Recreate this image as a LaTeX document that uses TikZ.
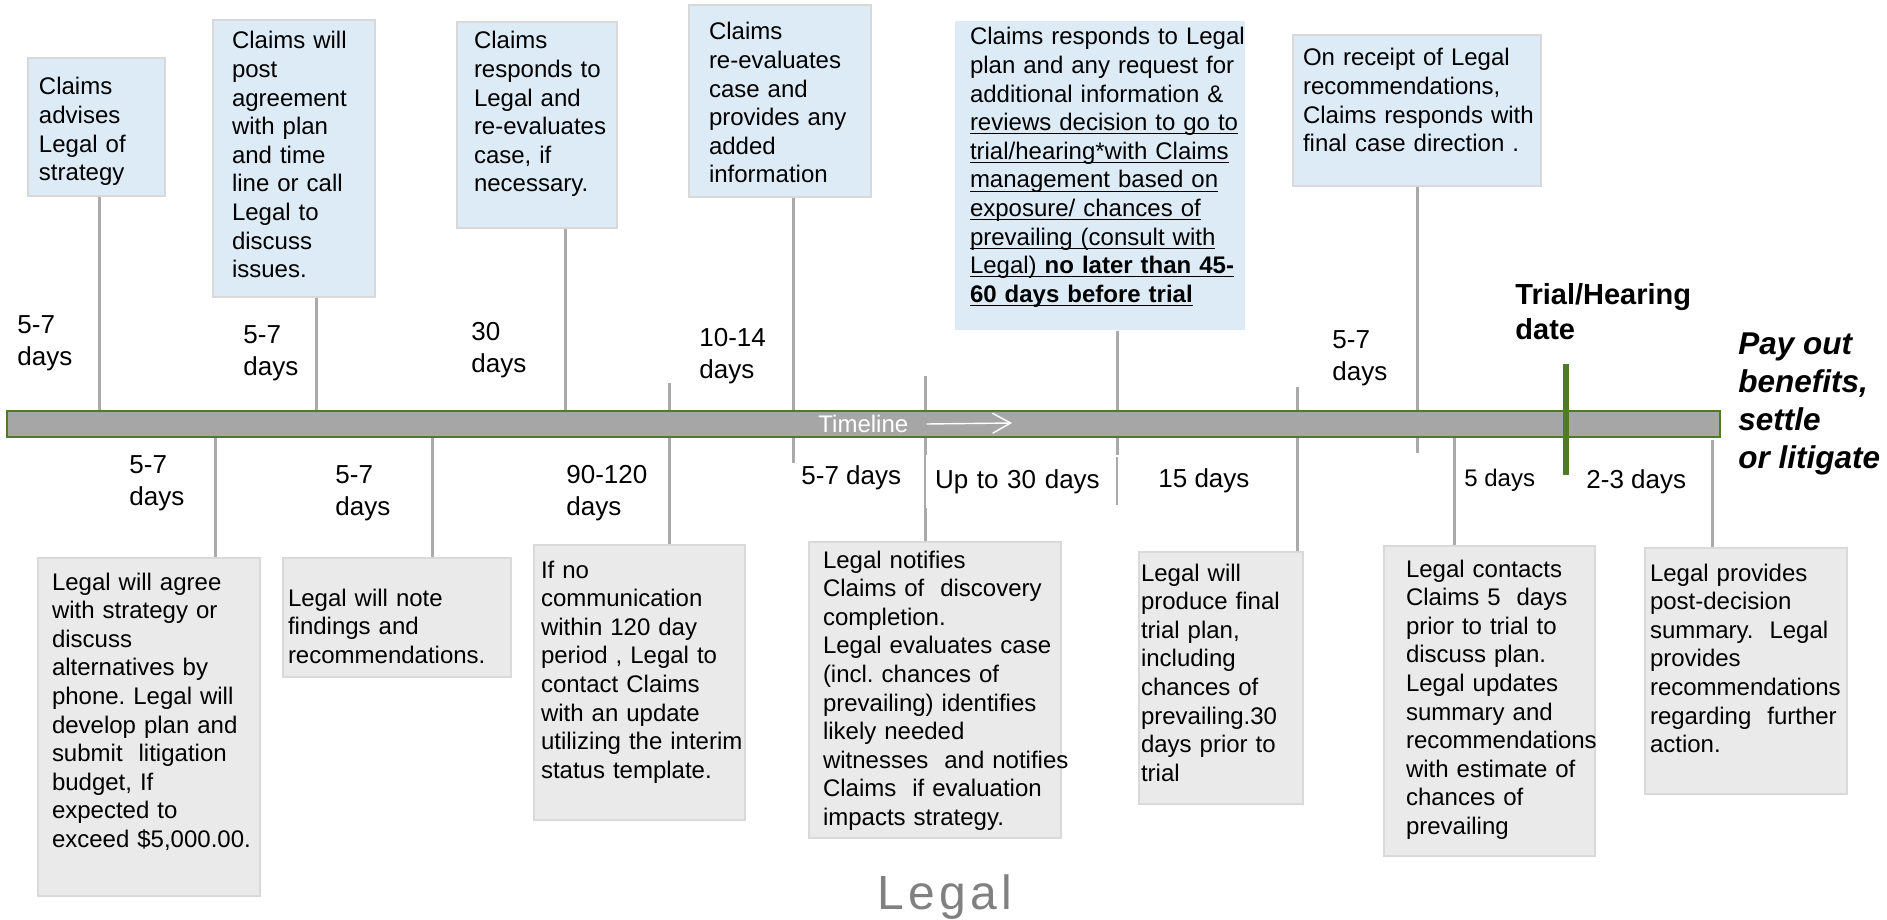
\documentclass[tikz,border=0pt]{standalone}
\usepackage{fontspec}
\setmainfont{Liberation Sans}
\frenchspacing
\newcommand{\undr}[1]{\mbox{\setbox0=\hbox{#1}\rlap{\rule[-1.8pt]{\wd0}{0.5pt}}\box0}}
\definecolor{ClaimsBlue}{RGB}{221, 235, 247}
\definecolor{LegalGray}{RGB}{234, 234, 234}
\definecolor{EdgeGray}{RGB}{217, 217, 217}
\definecolor{LinkGray}{RGB}{170, 170, 170}
\definecolor{BarGray}{RGB}{166, 166, 166}
\definecolor{BarGreen}{RGB}{79, 122, 40}
\definecolor{TitleGray}{RGB}{128, 128, 128}
\usetikzlibrary{arrows.meta}

\begin{document}
\begin{tikzpicture}[
        x=0.5pt, y=-0.5pt,
        box/.style={rectangle, draw=EdgeGray, line width=1pt, anchor=north west,
                    align=left, inner ysep=0pt, font=\fontsize{12pt}{14.3pt}\selectfont},
        boxsize/.style n args={4}{text width=#1, inner xsep=#2, text height=#3, text depth=#4},
        claims/.style={box, fill=ClaimsBlue},
        legal/.style={box, fill=LegalGray},
        gap/.style={anchor=north west, inner sep=0pt, align=left,
                    font=\fontsize{13pt}{16pt}\selectfont},
        link/.style={draw=LinkGray, line width=1.5pt},
        bar/.style={rectangle, draw=BarGreen, fill=BarGray, line width=1pt, inner sep=0pt,
                    minimum width=856.5pt, minimum height=13pt},
        arrow/.style={-{Straight Barb[length=9pt, width=10pt]}, white, line width=0.7pt},
        trialmark/.style={draw=BarGreen, line width=3pt}
    ]
    \useasboundingbox (0,0) rectangle (1887,920);

    % Claims boxes
    \node[claims, boxsize={57.5pt}{5.5pt}{18.5pt}{50.5pt}] (adv) at (27,57)
        {Claims\\advises\\Legal of\\strategy};
    \node[claims, boxsize={62pt}{9.5pt}{14.5pt}{124pt}] (post) at (212,19)
        {Claims will\\post\\agreement\\with plan\\and time\\line or call\\Legal to\\discuss\\issues.};
    \node[claims, boxsize={63pt}{8.5pt}{13.5pt}{89.5pt}] (resp) at (456,21)
        {Claims\\\mbox{responds to}\\Legal and\\\mbox{re-evaluates}\\case, if\\necessary.};
    \node[claims, boxsize={71pt}{10pt}{17.5pt}{78.5pt}] (reeval) at (688,4)
        {Claims\\re-evaluates\\case and\\provides any\\added\\information};
    \node[claims, draw=none, boxsize={130pt}{7.5pt}{12pt}{142.5pt}] (review) at (954,20)
        {\mbox{Claims responds to Legal}\\
         \mbox{plan and any request for}\\
         additional information \&\\
         \undr{reviews decision to go to}\\
         \undr{trial/hearing*with Claims}\\
         \undr{management based on}\\
         \undr{exposure/ chances of}\\
         \undr{prevailing (consult with}\\
         \undr{Legal) \textbf{no later than 45-}}\\
         \undr{\textbf{60 days before trial}}};
    \node[claims, boxsize={114pt}{5pt}{15.5pt}{60pt}] (direct) at (1292,34)
        {On receipt of Legal\\recommendations,\\\mbox{Claims responds with}\\final case direction .};

    % Legal boxes
    \node[legal, boxsize={97pt}{7pt}{16pt}{153pt}] (agree) at (37,557)
        {Legal will agree\\with strategy or\\discuss\\alternatives by\\phone. Legal will\\develop plan and\\submit~ litigation\\budget, If\\expected to\\\mbox{exceed \$5,000.00.}};
    \node[legal, boxsize={109pt}{2.5pt}{24pt}{35.5pt}] (note) at (282,557)
        {Legal will note\\findings and\\recommendations.};
    \node[legal, boxsize={98.5pt}{3.5pt}{16.5pt}{121pt}] (nocomm) at (533,544)
        {If no\\communication\\within 120 day\\period , Legal to\\contact Claims\\with an update\\\mbox{utilizing the interim}\\status template.};
    \node[legal, boxsize={112pt}{7pt}{13pt}{135pt}] (notify) at (808,541)
        {Legal notifies\\Claims of~ discovery\\completion.\\\mbox{Legal evaluates case}\\(incl. chances of\\prevailing) identifies\\likely needed\\\mbox{witnesses~ and notifies}\\Claims~ if evaluation\\impacts strategy.};
    \node[legal, boxsize={80pt}{1pt}{14.5pt}{111.5pt}] (final) at (1138,551)
        {Legal will\\produce final\\trial plan,\\including\\chances of\\prevailing.30\\days prior to\\trial};
    \node[legal, boxsize={83.5pt}{11pt}{15.5pt}{139.5pt}] (contact) at (1383,545)
        {Legal contacts\\Claims 5~ days\\prior to trial to\\discuss plan.\\Legal updates\\summary and\\\mbox{recommendations}\\\mbox{with estimate of}\\chances of\\prevailing};
    \node[legal, boxsize={96pt}{2.5pt}{16.5pt}{106.5pt}] (summary) at (1644,547)
        {Legal provides\\post-decision\\summary.~ Legal\\provides\\\mbox{recommendations}\\regarding~ further\\action.};

    % Link ends
    \coordinate (e1) at (99,411);
    \coordinate (e2) at (316,411);
    \coordinate (e3) at (565,411);
    \coordinate (e4) at (793,463);
    \coordinate (e5) at (1117,505);
    \coordinate (e6) at (1417,453);
    \coordinate (s1) at (215,437);
    \coordinate (s2) at (432,437);
    \coordinate (s3) at (669,383);
    \coordinate (s4) at (925,376);
    \coordinate (s5) at (1297,387);
    \coordinate (s6) at (1454,437);
    \coordinate (s7) at (1712,440);

    % Links
    \draw[link] (adv.south -| e1) -- (e1);
    \draw[link] (post.south -| e2) -- (e2);
    \draw[link] (resp.south -| e3) -- (e3);
    \draw[link] (reeval.south -| e4) -- (e4);
    \draw[link] (review.south -| e5) -- (e5);
    \draw[link] (direct.south -| e6) -- (e6);
    \draw[link] (s1) -- (agree.north -| s1);
    \draw[link] (s2) -- (note.north -| s2);
    \draw[link] (s3) -- (nocomm.north -| s3);
    \draw[link] (s4) -- (notify.north -| s4);
    \draw[link] (s5) -- (final.north -| s5);
    \draw[link] (s6) -- (contact.north -| s6);
    \draw[link] (s7) -- (summary.north -| s7);

    % Durations
    \node[gap] (dur1) at (17,315) {5-7\\days};
    \node[gap] (dur2) at (243,325) {5-7\\days};
    \node[gap] (dur3) at (471,322) {30\\days};
    \node[gap] (dur4) at (699,328) {10-14\\days};
    \node[gap] (dur5) at (1332,330) {5-7\\days};
    \node[gap] (dur6) at (129,455) {5-7\\days};
    \node[gap] (dur7) at (335,465) {5-7\\days};
    \node[gap] (dur8) at (566,465) {90-120\\days};
    \node[gap] (dur9) at (801,465) {5-7 days};
    \node[gap, draw=white, line width=1pt, inner xsep=4pt, text width=88pt, minimum height=25.5pt] (dur10) at (926,455) {Up to 30 days};
    \node[gap] (dur11) at (1158,468) {15 days};
    \node[gap, font=\fontsize{12pt}{14pt}\selectfont] (dur12) at (1464,469) {5 days};
    \node[gap] (dur13) at (1586,469) {2-3 days};

    % Timeline bar
    \node[bar] (bar) at (863.5,424) {};
    \node[anchor=west, inner sep=0pt, text=white, font=\fontsize{12pt}{14pt}\selectfont] (tltext) at (818,424) {Timeline};
    \coordinate (tlhead) at (1012,423);
    \draw[arrow] ([xshift=9pt]tltext.east) -- (tlhead);

    % Trial date
    \node[anchor=north west, inner sep=0pt, align=left, font=\fontsize{14.5pt}{17.5pt}\selectfont\bfseries] (trial) at (1515,283) {Trial/Hearing\\date};
    \coordinate (trialtop) at (1566,364);
    \coordinate (trialfoot) at (1566,475);
    \draw[trialmark] (trialtop) -- (trialfoot);

    \node[anchor=north west, inner sep=0pt, align=left, font=\fontsize{15.75pt}{19.15pt}\selectfont\bfseries\itshape] (outcome) at (1738,332) {Pay out\\benefits,\\settle\\or litigate};

    \node[anchor=base west, inner sep=0pt, text=TitleGray, font=\fontsize{24pt}{28pt}\selectfont\addfontfeatures{LetterSpace=9}] (legal) at (877,909) {Legal};
\end{tikzpicture}
\end{document}
